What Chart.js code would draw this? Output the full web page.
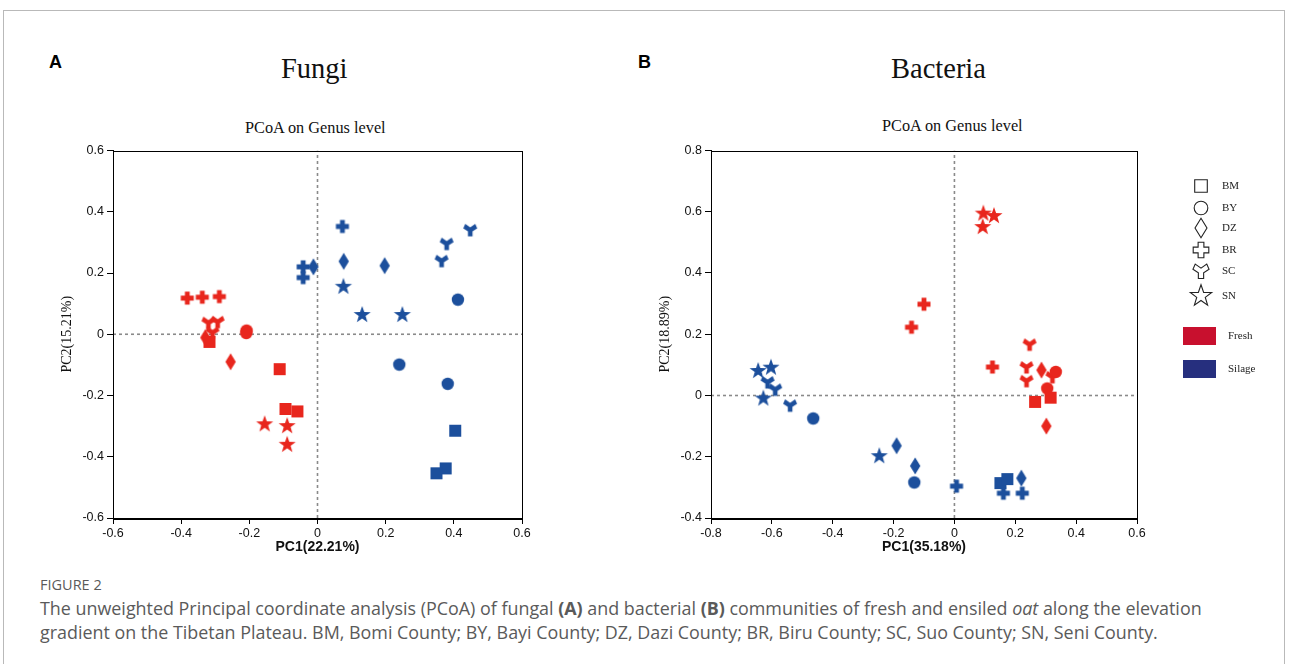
<!DOCTYPE html>
<html>
<head>
<meta charset="utf-8">
<script src="https://cdn.jsdelivr.net/npm/chart.js@4.4.1/dist/chart.umd.min.js"></script>
<style>
  body { margin: 0; width: 1290px; height: 664px; overflow: hidden; position: relative; background: #fff; font-family: "Liberation Sans", Arial, sans-serif; }
  #frame { position: absolute; left: 3px; top: 10px; width: 1282px; height: 720px; border: 1.5px solid #b9b9b9; box-sizing: border-box; }
  .t { position: absolute; white-space: nowrap; }
  .serif { font-family: "Liberation Serif", "Times New Roman", serif; color: #111; }
  .panel { position: absolute; }
  .caption { font-family: "Open Sans", sans-serif; color: #5a5a5a; }
</style>
</head>
<body>
<div id="frame"></div>

<div class="t" style="left:49px;top:52px;font:bold 18px 'Liberation Sans';">A</div>
<div class="t" style="left:638px;top:52px;font:bold 18px 'Liberation Sans';">B</div>
<div class="t serif" style="left:281px;top:53px;font-size:28.5px;">Fungi</div>
<div class="t serif" style="left:891px;top:53px;font-size:28.5px;">Bacteria</div>
<div class="t serif" style="left:245px;top:118px;font-size:16.3px;">PCoA on Genus level</div>
<div class="t serif" style="left:882px;top:116px;font-size:16.3px;">PCoA on Genus level</div>

<div class="panel" style="left:30px;top:140px;width:520px;height:420px;"><canvas id="fungi"></canvas></div>
<div class="panel" style="left:620px;top:140px;width:540px;height:420px;"><canvas id="bacteria"></canvas></div>

<canvas id="legend" width="110" height="230" style="position:absolute;left:1170px;top:170px;"></canvas>

<div class="t caption" style="left:40px;top:575px;font-size:14.5px;">FIGURE 2</div>
<div class="t caption" style="left:40px;top:596px;font-size:17.9px;">The unweighted Principal coordinate analysis (PCoA) of fungal <b>(A)</b> and bacterial <b>(B)</b> communities of fresh and ensiled <i>oat</i> along the elevation</div>
<div class="t caption" style="left:40px;top:620px;font-size:17.9px;">gradient on the Tibetan Plateau. BM, Bomi County; BY, Bayi County; DZ, Dazi County; BR, Biru County; SC, Suo County; SN, Seni County.</div>

<script>
// Sample groups (county) and their marker shapes
const groups = ['BM', 'BY', 'DZ', 'BR', 'SC', 'SN'];
const shapeOf = { BM: 'square', BY: 'circle', DZ: 'diamond', BR: 'plus', SC: 'sc', SN: 'star' };

// Fungi PCoA coordinates, [PC1, PC2]
const fungiFresh = {
  BM: [[-0.317, -0.025], [-0.111, -0.114], [-0.094, -0.244], [-0.059, -0.252]],
  BY: [[-0.208, 0.012], [-0.209, 0.004]],
  DZ: [[-0.329, -0.011], [-0.255, -0.09]],
  BR: [[-0.382, 0.118], [-0.338, 0.121], [-0.288, 0.123]],
  SC: [[-0.32, 0.038], [-0.293, 0.041], [-0.308, 0.006]],
  SN: [[-0.155, -0.294], [-0.089, -0.3], [-0.089, -0.361]]
};
const fungiSilage = {
  BM: [[0.404, -0.315], [0.376, -0.438], [0.349, -0.454]],
  BY: [[0.412, 0.113], [0.24, -0.099], [0.382, -0.162]],
  DZ: [[-0.012, 0.22], [0.077, 0.238], [0.197, 0.224]],
  BR: [[0.073, 0.352], [-0.042, 0.22], [-0.042, 0.185]],
  SC: [[0.379, 0.296], [0.364, 0.24], [0.448, 0.341]],
  SN: [[0.076, 0.155], [0.131, 0.063], [0.249, 0.063]]
};

// Bacteria PCoA coordinates, [PC1, PC2]
const bacteriaFresh = {
  BM: [[0.265, -0.021], [0.316, -0.007]],
  BY: [[0.333, 0.077], [0.305, 0.023]],
  DZ: [[0.286, 0.083], [0.302, -0.1]],
  BR: [[-0.1, 0.298], [-0.141, 0.223], [0.125, 0.093]],
  SC: [[0.247, 0.167], [0.237, 0.093], [0.237, 0.048], [0.322, 0.061]],
  SN: [[0.095, 0.594], [0.13, 0.586], [0.093, 0.55]]
};
const bacteriaSilage = {
  BM: [[0.151, -0.286], [0.174, -0.273]],
  BY: [[-0.464, -0.075], [-0.132, -0.284]],
  DZ: [[-0.19, -0.164], [-0.129, -0.23], [0.22, -0.27]],
  BR: [[0.007, -0.296], [0.161, -0.319], [0.223, -0.319]],
  SC: [[-0.614, 0.044], [-0.589, 0.02], [-0.54, -0.032]],
  SN: [[-0.645, 0.08], [-0.603, 0.091], [-0.628, -0.01], [-0.247, -0.198]]
};

const freshColor = '#e8261d';
const silageColor = '#1c4f9c';

// Builds the path of a marker shape centred on (0,0); k scales it
function shapePath(ctx, shape, k) {
  ctx.beginPath();
  if (shape === 'square') {
    ctx.rect(-6 * k, -6 * k, 12 * k, 12 * k);
  } else if (shape === 'circle') {
    ctx.arc(0, 0, 6.2 * k, 0, Math.PI * 2);
  } else if (shape === 'diamond') {
    ctx.moveTo(0, -8.5 * k); ctx.lineTo(5.2 * k, 0); ctx.lineTo(0, 8.5 * k); ctx.lineTo(-5.2 * k, 0); ctx.closePath();
  } else if (shape === 'plus') {
    const a = 2.4 * k, b = 6.5 * k;
    ctx.moveTo(-a, -b); ctx.lineTo(a, -b); ctx.lineTo(a, -a); ctx.lineTo(b, -a); ctx.lineTo(b, a); ctx.lineTo(a, a);
    ctx.lineTo(a, b); ctx.lineTo(-a, b); ctx.lineTo(-a, a); ctx.lineTo(-b, a); ctx.lineTo(-b, -a); ctx.lineTo(-a, -a); ctx.closePath();
  } else if (shape === 'sc') {
    const p = [[-5, -6], [0, -2.5], [5, -6], [7, -1.5], [2.3, 1.5], [2.3, 6.5], [-2.3, 6.5], [-2.3, 1.5], [-7, -1.5]];
    p.forEach((q, i) => i ? ctx.lineTo(q[0] * k, q[1] * k) : ctx.moveTo(q[0] * k, q[1] * k));
    ctx.closePath();
  } else if (shape === 'star') {
    for (let i = 0; i < 10; i++) {
      const r = (i % 2 ? 3.6 : 9) * k;
      const ang = -Math.PI / 2 + i * Math.PI / 5;
      const x = r * Math.cos(ang), y = r * Math.sin(ang);
      i ? ctx.lineTo(x, y) : ctx.moveTo(x, y);
    }
    ctx.closePath();
  }
}

// Marker images used as Chart.js point styles
function markerImage(shape, color) {
  const c = document.createElement('canvas');
  c.width = 22; c.height = 22;
  const ctx = c.getContext('2d');
  ctx.translate(11, 11);
  shapePath(ctx, shape, 1);
  ctx.fillStyle = color;
  ctx.fill();
  return c;
}

function makeDatasets(fresh, silage) {
  const sets = [];
  [[fresh, freshColor], [silage, silageColor]].forEach(([src, color]) => {
    groups.forEach(g => {
      sets.push({
        label: g,
        data: src[g].map(p => ({ x: p[0], y: p[1] })),
        pointStyle: markerImage(shapeOf[g], color),
        pointRadius: 7,
        order: 1
      });
    });
  });
  return sets;
}

function zeroLines(xmin, xmax, ymin, ymax) {
  const style = { type: 'line', borderColor: '#8a8a8a', borderWidth: 1.6, borderDash: [3, 3], pointRadius: 0, order: 10 };
  return [
    { ...style, label: 'h0', data: [{ x: xmin, y: 0 }, { x: xmax, y: 0 }] },
    { ...style, label: 'v0', data: [{ x: 0, y: ymin }, { x: 0, y: ymax }] }
  ];
}

// Closes the plot frame on the top and right sides
const boxPlugin = {
  id: 'box',
  afterDatasetsDraw(chart) {
    const a = chart.chartArea, ctx = chart.ctx;
    ctx.save();
    ctx.strokeStyle = '#000';
    ctx.lineWidth = 1;
    ctx.strokeRect(Math.round(a.left) + 0.5, Math.round(a.top) + 0.5, Math.round(a.right - a.left), Math.round(a.bottom - a.top));
    ctx.restore();
  }
};

function makeChart(id, fresh, silage, xr, yr, xTitle, yTitle, yWidth, padRight, yTitleGap) {
  const fmt = v => String(Math.round(v * 10) / 10);
  return new Chart(document.getElementById(id), {
    type: 'scatter',
    data: { datasets: [...zeroLines(xr[0], xr[1], yr[0], yr[1]), ...makeDatasets(fresh, silage)] },
    options: {
      responsive: true,
      maintainAspectRatio: false,
      animation: false,
      layout: { padding: { top: 10, right: padRight, left: 0, bottom: 0 } },
      plugins: { legend: { display: false }, tooltip: { enabled: false } },
      scales: {
        x: {
          min: xr[0], max: xr[1],
          ticks: { stepSize: 0.2, callback: fmt, color: '#111', font: { family: 'Liberation Sans', size: 12.5 }, padding: 2, maxRotation: 0 },
          grid: { drawOnChartArea: false, tickLength: 6, color: '#000' },
          border: { color: '#000', width: 1 },
          title: { display: true, text: xTitle, color: '#111', font: { family: 'Liberation Sans', size: 14, weight: 'bold' }, padding: { top: 0 } },
          afterFit: s => { s.height = 42; }
        },
        y: {
          min: yr[0], max: yr[1],
          ticks: { stepSize: 0.2, callback: fmt, color: '#111', font: { family: 'Liberation Sans', size: 12.5 }, padding: 3 },
          grid: { drawOnChartArea: false, tickLength: 6, color: '#000' },
          border: { color: '#000', width: 1 },
          title: { display: true, text: yTitle, color: '#111', font: { family: 'Liberation Serif', size: 14 }, padding: { top: yTitleGap, bottom: 0 } },
          afterFit: s => { s.width = yWidth; }
        }
      }
    },
    plugins: [boxPlugin]
  });
}

makeChart('fungi', fungiFresh, fungiSilage, [-0.6, 0.6], [-0.6, 0.6], 'PC1(22.21%)', 'PC2(15.21%)', 83, 28, 29);
makeChart('bacteria', bacteriaFresh, bacteriaSilage, [-0.8, 0.6], [-0.4, 0.8], 'PC1(35.18%)', 'PC2(18.89%)', 91, 23, 37);

// Legend: outlined shapes for counties, colour swatches for treatment
(function drawLegend() {
  const ctx = document.getElementById('legend').getContext('2d');
  const rows = [['BM', 16, 1.05], ['BY', 38, 1.1], ['DZ', 58, 1.15], ['BR', 80, 1.2], ['SC', 101, 1.15], ['SN', 126, 1.25]];
  ctx.font = '11px "Liberation Serif"';
  ctx.textBaseline = 'middle';
  rows.forEach(([g, y, k]) => {
    ctx.save();
    ctx.translate(31, y);
    shapePath(ctx, shapeOf[g], k);
    ctx.strokeStyle = '#222';
    ctx.lineWidth = 1.1;
    ctx.stroke();
    ctx.restore();
    ctx.fillStyle = '#222';
    ctx.fillText(g, 52, y);
  });
  ctx.fillStyle = '#c8102e';
  ctx.fillRect(13, 157, 33, 18);
  ctx.fillStyle = '#262f7e';
  ctx.fillRect(13, 190, 33, 18);
  ctx.fillStyle = '#222';
  ctx.fillText('Fresh', 58, 166);
  ctx.fillText('Silage', 58, 199);
})();
</script>
</body>
</html>
